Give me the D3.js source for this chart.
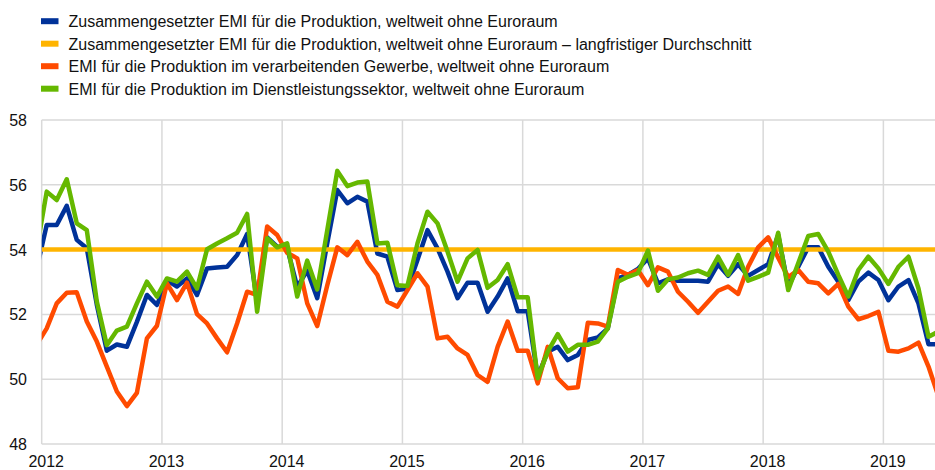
<!DOCTYPE html>
<html>
<head>
<meta charset="utf-8">
<script src="https://cdn.jsdelivr.net/npm/d3@7"></script>
<style>
  body { margin: 0; background: #fff; }
  svg { display: block; font-family: "Liberation Sans", Arial, sans-serif; }
</style>
</head>
<body>
<svg id="chart" width="935" height="470"></svg>
<script>
// monthly values, Dec 2011 .. Jun 2019 (first and last point fall outside the plot and get clipped)
var firstMonth = new Date(2011, 11, 1);

var composite = [53.4,
  54.76, 54.76, 55.35, 54.3, 54.04, 52.3, 50.88, 51.07, 51.0, 51.77, 52.6, 52.29,
  53.06, 52.86, 53.11, 52.6, 53.42, 53.45, 53.47, 53.83, 54.48, 52.4, 54.38, 54.09,
  54.05, 52.85, 53.35, 52.5, 54.2, 55.84, 55.43, 55.63, 55.48, 53.88, 53.78, 52.75,
  52.8, 53.68, 54.6, 54.04, 53.32, 52.5, 52.98, 52.98, 52.08, 52.55, 53.11, 52.1,
  52.1, 50.08, 50.85, 51.0, 50.59, 50.75, 51.21, 51.29, 51.57, 53.11, 53.22, 53.4,
  53.73, 52.96, 53.08, 53.04, 53.04, 53.04, 53.01, 53.55, 53.19, 53.55, 53.19, 53.37,
  53.55, 54.45, 52.86, 53.47, 54.07, 54.07, 53.47, 53.01, 52.44, 53.01, 53.29, 53.06,
  52.44, 52.86, 53.06, 52.34, 51.08, 51.08];

var manufacturing = [51.06,
  51.57, 52.34, 52.67, 52.68, 51.78, 51.16, 50.39, 49.62, 49.17, 49.58, 51.26, 51.65,
  52.96, 52.44, 52.98, 52.01, 51.72, 51.26, 50.83, 51.72, 52.7, 52.6, 54.71, 54.45,
  53.9, 53.73, 52.34, 51.64, 52.9, 54.07, 53.83, 54.24, 53.63, 53.22, 52.39, 52.24,
  52.75, 53.27, 52.86, 51.26, 51.31, 50.95, 50.75, 50.13, 49.92, 51.0, 51.78, 50.88,
  50.88, 49.87, 51.0, 50.03, 49.72, 49.75, 51.74, 51.72, 51.62, 53.37, 53.22, 53.37,
  52.9, 53.45, 53.32, 52.7, 52.39, 52.05, 52.39, 52.73, 52.86, 52.63, 53.47, 54.07,
  54.38, 53.75, 53.15, 53.37, 53.01, 52.96, 52.65, 52.94, 52.24, 51.85, 51.95, 52.08,
  50.88, 50.85, 50.95, 51.13, 50.39, 49.46];

var services = [54.0,
  55.79, 55.53, 56.17, 54.81, 54.6, 52.4, 51.05, 51.5, 51.62, 52.34, 53.01, 52.55,
  53.11, 53.01, 53.32, 52.8, 54.01, 54.19, 54.35, 54.52, 55.1, 52.08, 54.35, 54.07,
  54.19, 52.55, 53.66, 52.77, 54.6, 56.43, 55.96, 56.07, 56.1, 54.19, 54.21, 52.9,
  52.88, 54.19, 55.17, 54.81, 53.94, 53.01, 53.73, 53.99, 52.82, 53.06, 53.55, 52.53,
  52.53, 50.03, 50.85, 51.39, 50.85, 51.06, 51.06, 51.16, 51.57, 53.01, 53.16, 53.27,
  53.97, 52.73, 53.08, 53.14, 53.27, 53.35, 53.22, 53.78, 53.22, 53.83, 53.04, 53.16,
  53.29, 54.52, 52.75, 53.58, 54.42, 54.48, 53.94, 53.22, 52.55, 53.37, 53.78, 53.42,
  52.94, 53.47, 53.78, 52.8, 51.31, 51.47];

var longRunAverage = 54.0;

var yearLabels = ["2012", "2013", "2014", "2015", "2016", "2017", "2018", "2019"];
var yTicks = [48, 50, 52, 54, 56, 58];

var legendLabels = [
  "Zusammengesetzter EMI für die Produktion, weltweit ohne Euroraum",
  "Zusammengesetzter EMI für die Produktion, weltweit ohne Euroraum – langfristiger Durchschnitt",
  "EMI für die Produktion im verarbeitenden Gewerbe, weltweit ohne Euroraum",
  "EMI für die Produktion im Dienstleistungssektor, weltweit ohne Euroraum"
];
var colors = ["#003299", "#ffb400", "#ff4b00", "#65b800"];

var svg = d3.select("#chart");
var plotLeft = 41.7, plotRight = 935, plotTop = 120, plotBottom = 444;

// x in months since Jan 2012; each month occupies one unit, the point sits in its middle
var x = d3.scaleLinear().domain([0, 89.15]).range([plotLeft, plotRight]);
var y = d3.scaleLinear().domain([48, 58]).range([plotBottom, plotTop]);

function monthIndex(i) {
  var d = d3.timeMonth.offset(firstMonth, i);
  return (d.getFullYear() - 2012) * 12 + d.getMonth();
}

// grid
svg.append("g").selectAll("line").data(yTicks).enter().append("line")
  .attr("x1", plotLeft).attr("x2", plotRight)
  .attr("y1", function (d) { return y(d); }).attr("y2", function (d) { return y(d); })
  .attr("stroke", "#d9d9d9").attr("stroke-width", 1.5);

svg.append("g").selectAll("line").data(yearLabels).enter().append("line")
  .attr("x1", function (d, i) { return x(i * 12); }).attr("x2", function (d, i) { return x(i * 12); })
  .attr("y1", plotTop).attr("y2", plotBottom)
  .attr("stroke", "#d9d9d9").attr("stroke-width", 1.5);

// tick labels
svg.append("g").selectAll("text").data(yTicks).enter().append("text")
  .attr("x", 27).attr("y", function (d) { return y(d) + 6; })
  .attr("text-anchor", "end").attr("font-size", 16).attr("fill", "#111")
  .text(function (d) { return d; });

svg.append("g").selectAll("text").data(yearLabels).enter().append("text")
  .attr("x", function (d, i) { return x(i * 12 + 0.45); }).attr("y", 467)
  .attr("text-anchor", "middle").attr("font-size", 16).attr("fill", "#111")
  .text(function (d) { return d; });

// lines
svg.append("clipPath").attr("id", "plot").append("rect")
  .attr("x", plotLeft).attr("y", 0).attr("width", plotRight - plotLeft).attr("height", 470);

var line = d3.line()
  .x(function (d, i) { return x(monthIndex(i) + 0.5); })
  .y(function (d) { return y(d); });

var g = svg.append("g").attr("clip-path", "url(#plot)");

function drawSeries(values, color) {
  g.append("path").datum(values)
    .attr("d", line)
    .attr("fill", "none")
    .attr("stroke", color)
    .attr("stroke-width", 4.5)
    .attr("stroke-linejoin", "round");
}

drawSeries(composite, colors[0]);
g.append("line")
  .attr("x1", plotLeft).attr("x2", plotRight)
  .attr("y1", y(longRunAverage)).attr("y2", y(longRunAverage))
  .attr("stroke", colors[1]).attr("stroke-width", 4.5);
drawSeries(manufacturing, colors[2]);
drawSeries(services, colors[3]);

// legend
var legend = svg.append("g").selectAll("g").data(legendLabels).enter().append("g")
  .attr("transform", function (d, i) { return "translate(41," + (21.2 + i * 22.5) + ")"; });

legend.append("rect")
  .attr("x", 0).attr("y", -3).attr("width", 17.5).attr("height", 6)
  .attr("fill", function (d, i) { return colors[i]; });

legend.append("text")
  .attr("x", 27.5).attr("y", 5.8)
  .attr("font-size", 16).attr("fill", "#111")
  .text(function (d) { return d; });
</script>
</body>
</html>
